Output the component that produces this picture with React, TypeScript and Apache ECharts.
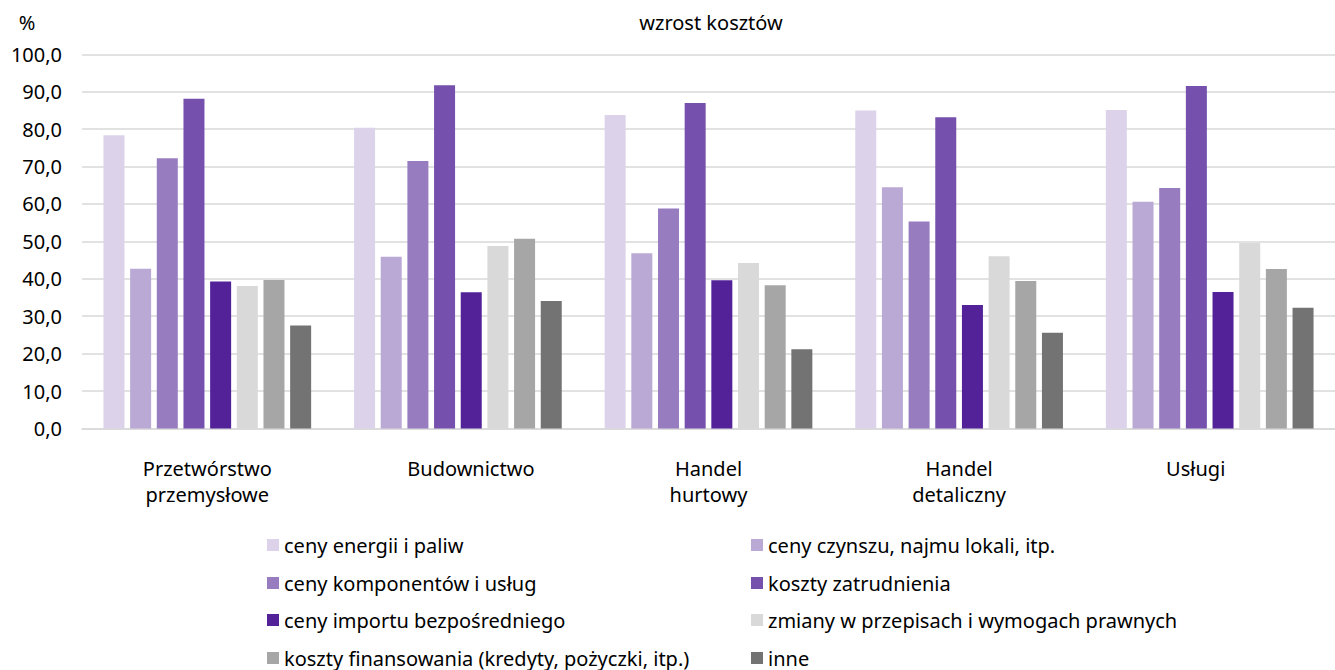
import React, { useEffect, useRef } from "react";
import * as echarts from "echarts";

const categories = [
  "Przetwórstwo\nprzemysłowe",
  "Budownictwo",
  "Handel\nhurtowy",
  "Handel\ndetaliczny",
  "Usługi",
];

const seriesNames = [
  "ceny energii i paliw",
  "ceny czynszu, najmu lokali, itp.",
  "ceny komponentów i usług",
  "koszty zatrudnienia",
  "ceny importu bezpośredniego",
  "zmiany w przepisach i wymogach prawnych",
  "koszty finansowania (kredyty, pożyczki, itp.)",
  "inne",
];

const energia = [78.4, 80.4, 83.8, 85.0, 85.1];
const czynsz = [42.7, 45.9, 46.8, 64.5, 60.6];
const komponenty = [72.2, 71.5, 58.8, 55.3, 64.3];
const zatrudnienie = [88.1, 91.7, 87.0, 83.2, 91.5];
const importBezp = [39.3, 36.4, 39.6, 33.0, 36.5];
const przepisy = [38.1, 48.8, 44.2, 46.0, 49.6];
const finansowanie = [39.7, 50.7, 38.3, 39.4, 42.6];
const inne = [27.5, 34.1, 21.2, 25.6, 32.3];

const seriesValues = [
  energia,
  czynsz,
  komponenty,
  zatrudnienie,
  importBezp,
  przepisy,
  finansowanie,
  inne,
];

const colors = [
  "#dcd3ea",
  "#baa8d5",
  "#977dc0",
  "#7551ad",
  "#532298",
  "#d9d9d9",
  "#a6a6a6",
  "#737373",
];

const yTicks = { min: 0, max: 100, interval: 10 };

const FONT = "'Noto Sans', 'DejaVu Sans', sans-serif";
const FS = 20;

export default function App() {
  const ref = useRef<HTMLDivElement>(null);

  useEffect(() => {
    if (!ref.current) return;
    const chart = echarts.init(ref.current, null, { renderer: "svg" });

    const legendText = {
      fontFamily: FONT,
      fontSize: FS,
      color: "#000",
      lineHeight: 22,
    };

    const rowTops = [534, 572, 609, 647];
    const colLefts = [267, 751];

    const legends = seriesNames.map((name, i) => ({
      orient: "horizontal",
      left: colLefts[i % 2],
      top: rowTops[Math.floor(i / 2)],
      itemWidth: 12,
      itemHeight: 12,
      itemGap: 0,
      padding: 0,
      icon: "rect",
      data: [name],
      textStyle: legendText,
    }));

    const option: any = {
      animation: false,
      textStyle: { fontFamily: FONT },
      color: colors,
      grid: {
        left: 82,
        right: -12,
        top: 54.3,
        bottom: 241.5,
        containLabel: false,
      },
      graphic: [
        {
          type: "text",
          x: 27,
          y: 12,
          style: {
            text: "%",
            fontFamily: FONT,
            fontSize: FS,
            fill: "#000",
            align: "center",
          },
        },
        {
          type: "text",
          x: 711,
          y: 12,
          style: {
            text: "wzrost kosztów",
            fontFamily: FONT,
            fontSize: FS,
            fill: "#000",
            align: "center",
          },
        },
      ],
      legend: legends,
      xAxis: {
        type: "category",
        data: categories,
        axisLine: { lineStyle: { color: "#d9d9d9", width: 1.5 } },
        axisTick: { show: false },
        axisLabel: {
          interval: 0,
          margin: 27,
          color: "#000",
          fontFamily: FONT,
          fontSize: FS,
          lineHeight: 26,
          formatter: (v: string) => {
            if (v === "Budownictwo") return "{r|" + v + "}";
            if (v === "Usługi") return "{l|" + v + "}";
            return v;
          },
          rich: {
            r: {
              padding: [0, 0, 0, 26],
              fontFamily: FONT,
              fontSize: FS,
              color: "#000",
              lineHeight: 26,
            },
            l: {
              padding: [0, 28, 0, 0],
              fontFamily: FONT,
              fontSize: FS,
              color: "#000",
              lineHeight: 26,
            },
          },
        },
      },
      yAxis: {
        type: "value",
        min: yTicks.min,
        max: yTicks.max,
        interval: yTicks.interval,
        axisLine: { show: false },
        axisTick: { show: false },
        splitLine: { lineStyle: { color: "#d9d9d9", width: 1.5 } },
        axisLabel: {
          margin: 20,
          color: "#000",
          fontFamily: FONT,
          fontSize: FS,
          formatter: (v: number) => v.toFixed(1).replace(".", ","),
        },
      },
      series: seriesNames.map((name, i) => ({
        name,
        type: "bar",
        data: seriesValues[i],
        barWidth: 21,
        barGap: "27%",
        itemStyle: { color: colors[i] },
      })),
    };

    chart.setOption(option);
    return () => chart.dispose();
  }, []);

  return (
    <div
      ref={ref}
      style={{
        position: "fixed",
        left: 0,
        top: 0,
        width: 1335,
        height: 670,
        background: "#fff",
      }}
    />
  );
}
